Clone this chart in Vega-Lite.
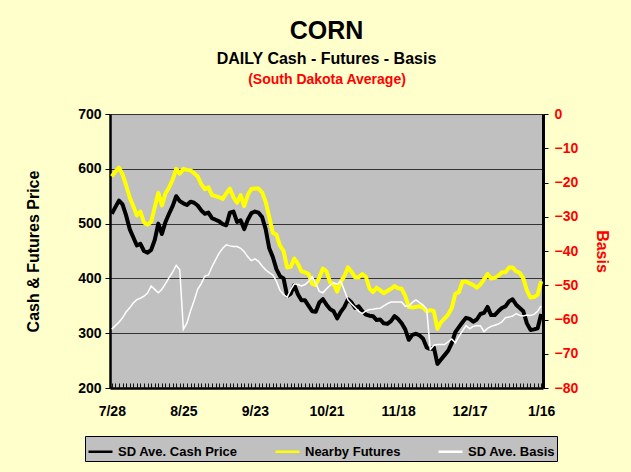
{
  "$schema": "https://vega.github.io/schema/vega-lite/v6.json",
  "width": 433,
  "height": 274,
  "autosize": {"type": "none"},
  "padding": {"left": 110, "top": 114, "right": 88, "bottom": 84},
  "background": "#FFFFCC",
  "config": {
    "font": "Liberation Sans",
    "view": {"fill": "#C0C0C0", "stroke": null}
  },
  "title": {
    "text": "CORN",
    "subtitle": "DAILY Cash - Futures - Basis",
    "fontSize": 25,
    "fontWeight": "bold",
    "color": "#000000",
    "subtitleFontSize": 16,
    "subtitleFontWeight": "bold",
    "subtitleColor": "#000000",
    "subtitlePadding": 7,
    "offset": 5,
    "anchor": "middle"
  },
  "data": {
    "values": [
      {"d": "7/28", "cash": 518, "fut": 586, "basis": -62.8},
      {"d": "7/29", "cash": 530, "fut": 595, "basis": -61.8},
      {"d": "7/30", "cash": 542, "fut": 602, "basis": -60.8},
      {"d": "7/31", "cash": 535, "fut": 590, "basis": -59.5},
      {"d": "8/1", "cash": 515, "fut": 570, "basis": -57.8},
      {"d": "8/4", "cash": 490, "fut": 548, "basis": -56.6},
      {"d": "8/5", "cash": 475, "fut": 532, "basis": -55.2},
      {"d": "8/6", "cash": 460, "fut": 515, "basis": -54.2},
      {"d": "8/7", "cash": 463, "fut": 522, "basis": -53.8},
      {"d": "8/8", "cash": 450, "fut": 502, "basis": -53.2},
      {"d": "8/11", "cash": 447, "fut": 498, "basis": -52.3},
      {"d": "8/12", "cash": 452, "fut": 503, "basis": -50.2},
      {"d": "8/13", "cash": 470, "fut": 530, "basis": -51.2},
      {"d": "8/14", "cash": 500, "fut": 556, "basis": -52.2},
      {"d": "8/15", "cash": 481, "fut": 533, "basis": -51.2},
      {"d": "8/18", "cash": 503, "fut": 555, "basis": -49.5},
      {"d": "8/19", "cash": 518, "fut": 566, "basis": -47.8},
      {"d": "8/20", "cash": 532, "fut": 580, "basis": -46.2},
      {"d": "8/21", "cash": 550, "fut": 600, "basis": -44.2},
      {"d": "8/22", "cash": 541, "fut": 591, "basis": -45.5},
      {"d": "8/25", "cash": 537, "fut": 600, "basis": -62.9},
      {"d": "8/26", "cash": 534, "fut": 598, "basis": -61.0},
      {"d": "8/27", "cash": 540, "fut": 597, "basis": -57.5},
      {"d": "8/28", "cash": 538, "fut": 592, "basis": -54.5},
      {"d": "8/29", "cash": 533, "fut": 586, "basis": -51.2},
      {"d": "9/2", "cash": 524, "fut": 572, "basis": -49.5},
      {"d": "9/3", "cash": 518, "fut": 563, "basis": -47.3},
      {"d": "9/4", "cash": 520, "fut": 566, "basis": -47.0},
      {"d": "9/5", "cash": 510, "fut": 552, "basis": -44.6},
      {"d": "9/8", "cash": 507, "fut": 550, "basis": -42.6},
      {"d": "9/9", "cash": 504, "fut": 548, "basis": -40.6},
      {"d": "9/10", "cash": 499, "fut": 545, "basis": -39.2},
      {"d": "9/11", "cash": 497, "fut": 555, "basis": -38.2},
      {"d": "9/12", "cash": 520, "fut": 564, "basis": -38.5},
      {"d": "9/15", "cash": 522, "fut": 548, "basis": -38.7},
      {"d": "9/16", "cash": 503, "fut": 538, "basis": -38.7},
      {"d": "9/17", "cash": 506, "fut": 552, "basis": -39.2},
      {"d": "9/18", "cash": 490, "fut": 532, "basis": -40.2},
      {"d": "9/19", "cash": 507, "fut": 552, "basis": -41.7},
      {"d": "9/22", "cash": 519, "fut": 563, "basis": -42.8},
      {"d": "9/23", "cash": 522, "fut": 564, "basis": -42.3},
      {"d": "9/24", "cash": 520, "fut": 564, "basis": -43.0},
      {"d": "9/25", "cash": 512, "fut": 557, "basis": -44.4},
      {"d": "9/26", "cash": 490, "fut": 540, "basis": -45.5},
      {"d": "9/29", "cash": 455, "fut": 512, "basis": -46.3},
      {"d": "9/30", "cash": 439, "fut": 483, "basis": -47.0},
      {"d": "10/1", "cash": 417, "fut": 480, "basis": -48.8},
      {"d": "10/2", "cash": 404, "fut": 460, "basis": -51.5},
      {"d": "10/3", "cash": 400, "fut": 450, "basis": -52.7},
      {"d": "10/6", "cash": 368, "fut": 420, "basis": -53.5},
      {"d": "10/7", "cash": 372, "fut": 421, "basis": -51.3},
      {"d": "10/8", "cash": 388, "fut": 436, "basis": -49.6},
      {"d": "10/9", "cash": 371, "fut": 427, "basis": -49.8},
      {"d": "10/10", "cash": 360, "fut": 413, "basis": -50.2},
      {"d": "10/13", "cash": 360, "fut": 411, "basis": -49.8},
      {"d": "10/14", "cash": 350, "fut": 408, "basis": -48.9},
      {"d": "10/15", "cash": 340, "fut": 390, "basis": -47.5},
      {"d": "10/16", "cash": 339, "fut": 388, "basis": -49.5},
      {"d": "10/17", "cash": 356, "fut": 402, "basis": -51.8},
      {"d": "10/20", "cash": 362, "fut": 418, "basis": -52.2},
      {"d": "10/21", "cash": 352, "fut": 413, "basis": -51.0},
      {"d": "10/22", "cash": 344, "fut": 393, "basis": -50.0},
      {"d": "10/23", "cash": 340, "fut": 389, "basis": -49.3},
      {"d": "10/24", "cash": 327, "fut": 376, "basis": -49.7},
      {"d": "10/27", "cash": 339, "fut": 394, "basis": -48.8},
      {"d": "10/28", "cash": 348, "fut": 404, "basis": -51.5},
      {"d": "10/29", "cash": 362, "fut": 420, "basis": -54.3},
      {"d": "10/30", "cash": 356, "fut": 412, "basis": -55.5},
      {"d": "10/31", "cash": 346, "fut": 402, "basis": -56.5},
      {"d": "11/3", "cash": 349, "fut": 402, "basis": -57.6},
      {"d": "11/4", "cash": 340, "fut": 408, "basis": -58.3},
      {"d": "11/5", "cash": 334, "fut": 403, "basis": -57.5},
      {"d": "11/6", "cash": 332, "fut": 382, "basis": -57.1},
      {"d": "11/7", "cash": 331, "fut": 375, "basis": -57.0},
      {"d": "11/10", "cash": 324, "fut": 383, "basis": -56.8},
      {"d": "11/11", "cash": 325, "fut": 378, "basis": -56.7},
      {"d": "11/12", "cash": 318, "fut": 373, "basis": -56.0},
      {"d": "11/13", "cash": 317, "fut": 377, "basis": -55.4},
      {"d": "11/14", "cash": 322, "fut": 381, "basis": -54.9},
      {"d": "11/17", "cash": 331, "fut": 386, "basis": -54.9},
      {"d": "11/18", "cash": 326, "fut": 382, "basis": -54.9},
      {"d": "11/19", "cash": 318, "fut": 381, "basis": -54.9},
      {"d": "11/20", "cash": 307, "fut": 368, "basis": -56.1},
      {"d": "11/21", "cash": 288, "fut": 348, "basis": -56.1},
      {"d": "11/24", "cash": 297, "fut": 347, "basis": -55.0},
      {"d": "11/25", "cash": 299, "fut": 348, "basis": -54.3},
      {"d": "11/26", "cash": 296, "fut": 349, "basis": -55.1},
      {"d": "11/28", "cash": 290, "fut": 347, "basis": -55.8},
      {"d": "12/1", "cash": 274, "fut": 340, "basis": -57.0},
      {"d": "12/2", "cash": 271, "fut": 342, "basis": -68.8},
      {"d": "12/3", "cash": 274, "fut": 340, "basis": -67.5},
      {"d": "12/4", "cash": 244, "fut": 308, "basis": -67.3},
      {"d": "12/5", "cash": 252, "fut": 320, "basis": -67.3},
      {"d": "12/8", "cash": 260, "fut": 327, "basis": -67.3},
      {"d": "12/9", "cash": 268, "fut": 334, "basis": -66.5},
      {"d": "12/10", "cash": 282, "fut": 346, "basis": -65.7},
      {"d": "12/11", "cash": 302, "fut": 372, "basis": -66.8},
      {"d": "12/12", "cash": 311, "fut": 375, "basis": -64.9},
      {"d": "12/15", "cash": 320, "fut": 394, "basis": -63.3},
      {"d": "12/16", "cash": 328, "fut": 394, "basis": -61.8},
      {"d": "12/17", "cash": 326, "fut": 391, "basis": -62.7},
      {"d": "12/18", "cash": 321, "fut": 388, "basis": -62.0},
      {"d": "12/19", "cash": 325, "fut": 383, "basis": -61.8},
      {"d": "12/22", "cash": 335, "fut": 389, "basis": -61.8},
      {"d": "12/23", "cash": 337, "fut": 398, "basis": -63.5},
      {"d": "12/24", "cash": 348, "fut": 408, "basis": -62.6},
      {"d": "12/26", "cash": 333, "fut": 400, "basis": -62.0},
      {"d": "12/29", "cash": 333, "fut": 401, "basis": -61.7},
      {"d": "12/30", "cash": 340, "fut": 405, "basis": -61.3},
      {"d": "12/31", "cash": 346, "fut": 411, "basis": -60.7},
      {"d": "1/2", "cash": 349, "fut": 411, "basis": -59.5},
      {"d": "1/5", "cash": 358, "fut": 420, "basis": -59.3},
      {"d": "1/6", "cash": 362, "fut": 420, "basis": -59.0},
      {"d": "1/7", "cash": 352, "fut": 413, "basis": -58.3},
      {"d": "1/8", "cash": 346, "fut": 410, "basis": -58.8},
      {"d": "1/9", "cash": 340, "fut": 400, "basis": -59.0},
      {"d": "1/12", "cash": 318, "fut": 378, "basis": -58.7},
      {"d": "1/13", "cash": 306, "fut": 365, "basis": -58.8},
      {"d": "1/14", "cash": 307, "fut": 366, "basis": -58.5},
      {"d": "1/15", "cash": 309, "fut": 370, "basis": -57.6},
      {"d": "1/16", "cash": 335, "fut": 395, "basis": -56.0}
    ]
  },
  "layer": [
    {
      "transform": [{"fold": ["cash", "fut"], "as": ["series", "value"]}],
      "mark": {"type": "line", "strokeWidth": 4, "strokeJoin": "round"},
      "encoding": {
        "x": {
          "field": "d",
          "type": "nominal",
          "sort": null,
          "scale": {"type": "point", "padding": 0.5},
          "axis": {
            "title": null,
            "offset": -5,
            "labelAngle": 0,
            "labelFontSize": 14,
            "labelFontWeight": "bold",
            "labelColor": "#000000",
            "labelPadding": 16,
            "labelOverlap": false,
            "labelFlush": false,
            "labelExpr": "indexof(['7/28','8/25','9/23','10/21','11/18','12/17','1/16'], datum.value) >= 0 ? datum.value : ''",
            "tickSize": 5,
            "tickColor": "#111111",
            "tickWidth": 1,
            "domain": false,
            "grid": false
          }
        },
        "y": {
          "field": "value",
          "type": "quantitative",
          "scale": {"domain": [200, 700], "nice": false, "zero": false},
          "axis": {
            "values": [200, 300, 400, 500, 600, 700],
            "title": "Cash & Futures Price",
            "titleFontSize": 16,
            "titleFontWeight": "bold",
            "titleColor": "#000000",
            "titlePadding": 36,
            "labelFontSize": 14,
            "labelFontWeight": "bold",
            "labelColor": "#000000",
            "labelPadding": 4,
            "tickSize": 5,
            "tickColor": "#000000",
            "domainColor": "#000000",
            "domainWidth": 2.5,
            "grid": true,
            "gridColor": {"condition": {"test": "datum.value == 200", "value": "#000000"}, "value": "#333333"},
            "gridWidth": {"condition": {"test": "datum.value == 200", "value": 2.5}, "value": 1.2}
          }
        },
        "color": {
          "field": "series",
          "type": "nominal",
          "scale": {"domain": ["cash", "fut", "basis"], "range": ["#000000", "#FFFF00", "#FFFFFF"]},
          "legend": {
            "title": null,
            "orient": "none",
            "legendX": -25,
            "legendY": 322,
            "direction": "horizontal",
            "fillColor": "#C0C0C0",
            "strokeColor": "#000000",
            "padding": 2,
            "columnPadding": 32,
            "symbolType": "stroke",
            "symbolSize": 576,
            "symbolStrokeWidth": 2.5,
            "labelFontSize": 13,
            "labelFontWeight": "bold",
            "labelColor": "#000000",
            "labelLimit": 300,
            "labelExpr": "{'cash': 'SD Ave. Cash Price', 'fut': 'Nearby Futures', 'basis': 'SD Ave. Basis'}[datum.label]"
          }
        }
      }
    },
    {
      "transform": [{"fold": ["basis"], "as": ["series", "value"]}],
      "mark": {"type": "line", "strokeWidth": 1.5},
      "encoding": {
        "x": {
          "field": "d",
          "type": "nominal",
          "sort": null,
          "axis": {
            "orient": "top",
            "domain": false,
            "ticks": false,
            "labels": false,
            "grid": false,
            "title": "(South Dakota Average)",
            "titleColor": "#FF0000",
            "titleFontSize": 14,
            "titleFontWeight": "bold",
            "titlePadding": 28
          }
        },
        "y": {
          "field": "value",
          "type": "quantitative",
          "scale": {"domain": [-80, 0], "nice": false, "zero": false},
          "axis": {
            "orient": "right",
            "values": [-80, -70, -60, -50, -40, -30, -20, -10, 0],
            "title": "Basis",
            "titleColor": "#FF0000",
            "titleFontSize": 16,
            "titleFontWeight": "bold",
            "titlePadding": 16,
            "labelColor": "#FF0000",
            "labelFontSize": 14,
            "labelFontWeight": "bold",
            "labelPadding": 6,
            "tickSize": 5,
            "tickColor": "#000000",
            "domainColor": "#000000",
            "domainWidth": 3,
            "grid": false
          }
        },
        "color": {"field": "series", "type": "nominal"}
      }
    }
  ],
  "resolve": {"scale": {"y": "independent"}, "axis": {"x": "independent"}}
}
